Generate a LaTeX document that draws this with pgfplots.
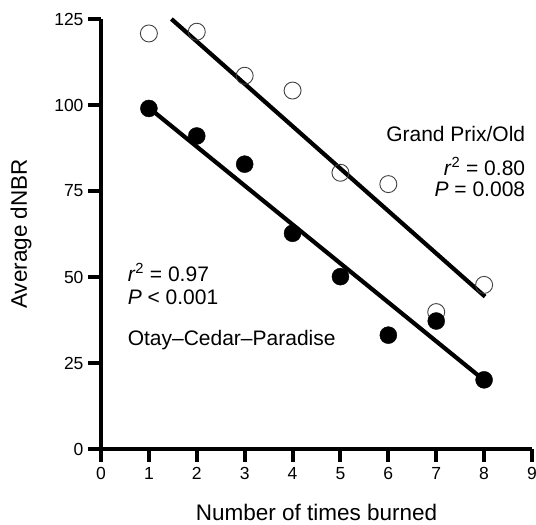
\documentclass[border=0pt]{standalone}
\usepackage{pgfplots}
\pgfplotsset{compat=1.18}
\usepackage{fontspec}
\setmainfont{Liberation Sans}
\newcommand{\annotfont}{\fontsize{21bp}{25bp}\selectfont}
\newcommand{\ticklabfont}{\fontsize{17.5bp}{20bp}\selectfont}
\newcommand{\axlabfont}{\fontsize{22.5bp}{26bp}\selectfont}
\pgfplotsset{
  every tick/.append style={line width=4bp, black},
  every tick label/.append style={font=\ticklabfont},
}
\begin{document}
\begin{tikzpicture}
\begin{axis}[
  scale only axis,
  width=431bp, height=430bp,
  xmin=0, xmax=9, ymin=0, ymax=125,
  axis lines*=left,
  axis line style={line width=4bp},
  every outer x axis line/.append style={line width=4bp},
  every outer y axis line/.append style={line width=4bp},
  clip=false,
  xtick={0,1,2,3,4,5,6,7,8,9},
  ytick={0,25,50,75,100,125},
  tick align=outside,
  major tick length=13bp,
  tick style={line width=4bp, black},
  tick label style={font=\ticklabfont},
  xticklabel style={yshift=-2bp},
  yticklabel style={xshift=-1bp},
  xlabel={Number of times burned},
  ylabel={Average dNBR},
  xlabel style={at={(axis description cs:0.5,-0.1674)}, anchor=base, font=\axlabfont},
  ylabel style={at={(axis description cs:-0.1717,0.5)}, anchor=base, font=\axlabfont},
  /pgf/number format/assume math mode=true,
]
\coordinate (O) at (axis cs:0,0);
% Grand Prix/Old (open circles)
\addplot[only marks, mark=o, mark size=8.5bp, mark options={line width=0.9bp, draw=black!75}]
  coordinates {(1,120.8) (2,121.3) (3,108.5) (4,104.2) (5,80.3) (6,77.0) (7,39.8) (8,47.7)};
\addplot[line width=4.2bp, black] coordinates {(1.47,125) (8.02,44.3)};
% Otay-Cedar-Paradise (filled circles)
\addplot[line width=4.2bp, black] coordinates {(1,99.2) (8,20.0)};
\addplot[only marks, mark=*, mark size=8.5bp, mark options={fill=black, draw=black}]
  coordinates {(1,99.0) (2,91.0) (3,82.8) (4,62.7) (5,50.1) (6,33.1) (7,37.2) (8,20.1)};
\node[anchor=base east, font=\annotfont] at (axis cs:8.93,89.5) {Grand Prix/Old};
\node[anchor=base east, font=\annotfont] at (axis cs:8.93,79.6) {\textit{r}\textsuperscript{2} = 0.80};
\node[anchor=base east, font=\annotfont] at (axis cs:8.93,73.3) {\textit{P} = 0.008};
\node[anchor=base west, font=\annotfont, inner xsep=0pt] at (axis cs:0.555,48.8) {\textit{r}\textsuperscript{2} = 0.97};
\node[anchor=base west, font=\annotfont, inner xsep=0pt] at (axis cs:0.555,41.9) {\textit{P} < 0.001};
\node[anchor=base west, font=\annotfont, inner xsep=0pt] at (axis cs:0.555,30.2) {Otay–Cedar–Paradise};
\end{axis}
\pgfresetboundingbox
\useasboundingbox ([shift={(-101bp,-76bp)}]O) rectangle ([shift={(435bp,449bp)}]O);
\end{tikzpicture}
\end{document}
